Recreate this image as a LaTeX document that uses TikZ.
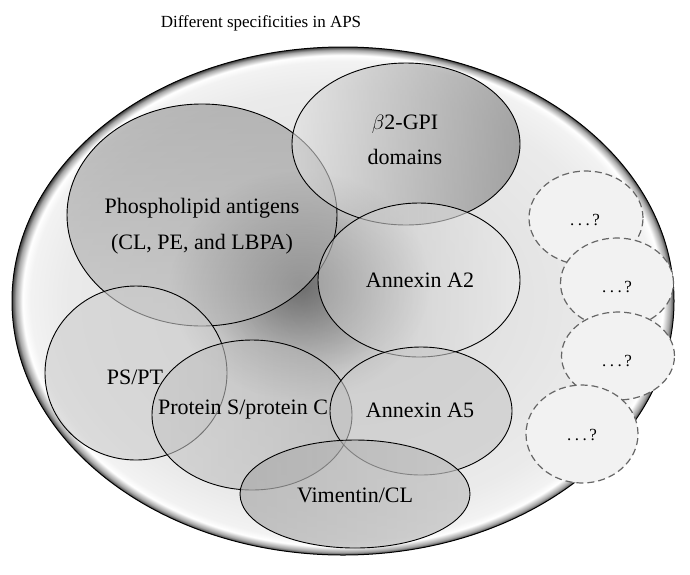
\documentclass[tikz,border=0pt]{standalone}
\usepackage{fontspec}
\setmainfont{Liberation Serif}
\usetikzlibrary{shapes.geometric,fadings}
\pgfdeclareradialshading{outerball}{\pgfpoint{0bp}{0bp}}{color(0bp)=(black!16); color(10bp)=(black!12); color(21bp)=(black!8); color(23.6bp)=(black!5); color(24.2bp)=(white); color(24.7bp)=(black!35); color(25bp)=(black!75); color(50bp)=(black!75)}
\tikzfading[name=spotfade, inner color=transparent!0, outer color=transparent!100]
\tikzset{
  spec/.style={ellipse, draw=black, line width=0.9pt, fill opacity=0.6, inner sep=0pt},
  lbl/.style={font=\fontsize{22}{26}\selectfont, text=black, align=center, inner sep=0pt},
  unk/.style={ellipse, draw=black!60, dash pattern=on 7pt off 4pt, line width=1.2pt, fill=black!5, inner sep=0pt},
  unklbl/.style={font=\fontsize{17}{19}\selectfont, inner sep=0pt},
}
\newcommand{\unkq}{.\hspace{3.5pt}.\hspace{3.5pt}.\hspace{2.5pt}?}
\begin{document}
\begin{tikzpicture}[x=1pt,y=-1pt]
\useasboundingbox (0,0) rectangle (690,574);
\fill[white] (0,0) rectangle (690,574);
% outer ellipse
\shade[shading=outerball] (343,301) ellipse (331 and 254);
\fill[black, opacity=0.5, path fading=spotfade] (300,285) ellipse (130 and 115);
\node[ellipse, draw=black, line width=1pt, minimum width=662pt, minimum height=508pt, inner sep=0pt] (aps) at (343,301) {};
% specificities
\node[spec, top color=black!43, bottom color=black!28, minimum width=270pt, minimum height=222pt] (phos) at (202,215) {};
\node[spec, left color=black!12, right color=black!55, minimum width=228pt, minimum height=162pt] (b2) at (406,144) {};
\node[spec, left color=black!25, right color=black!8, minimum width=202pt, minimum height=154pt] (a2) at (419,280) {};
\node[spec, fill=black!20, minimum width=182pt, minimum height=174pt] (pspt) at (136,373) {};
\node[spec, left color=black!22, right color=black!32, minimum width=200pt, minimum height=150pt] (prot) at (252,415) {};
\node[spec, fill=black!22, minimum width=182pt, minimum height=128pt] (a5) at (421,411) {};
\node[spec, fill opacity=0.7, left color=black!33, right color=black!24, minimum width=230pt, minimum height=108pt] (vim) at (355,494) {};
% unknown ones
\node[unk, minimum width=114pt, minimum height=94pt] (u1) at (586,218) {};
\node[unk, minimum width=113pt, minimum height=90pt] (u2) at (617,283) {};
\node[unk, minimum width=113pt, minimum height=88pt] (u3) at (618,356) {};
\node[unk, minimum width=112pt, minimum height=98pt] (u4) at (582,434) {};
% labels
\node[font=\fontsize{17}{20}\selectfont, inner sep=0pt] (title) at (261,23) {Different specificities in APS};
\node[lbl] (lphos1) at (202,208) {Phospholipid antigens};
\node[lbl] (lphos2) at (202,244) {(CL, PE, and LBPA)};
\node[lbl] (lb21) at (405,124) {$\beta$2-GPI};
\node[lbl] (lb22) at (405,157) {domains};
\node[lbl] (la2) at (420,280) {Annexin A2};
\node[lbl] (lpspt) at (135,377) {PS/PT};
\node[lbl] (lprot) at (243,410) {Protein S/protein C};
\node[lbl] (la5) at (420,410) {Annexin A5};
\node[lbl] (lvim) at (355,495) {Vimentin/CL};
\node[unklbl] (lu1) at (585,220) {\unkq};
\node[unklbl] (lu2) at (617,287) {\unkq};
\node[unklbl] (lu3) at (617,361) {\unkq};
\node[unklbl] (lu4) at (582,435) {\unkq};
\end{tikzpicture}
\end{document}
